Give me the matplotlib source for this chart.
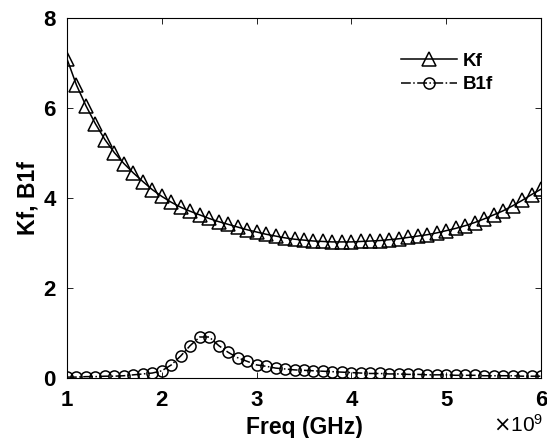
import numpy as np
import matplotlib
matplotlib.use('Agg')
import matplotlib.pyplot as plt
from matplotlib.ticker import FuncFormatter

# frequency points, 1 GHz .. 6 GHz step 0.1 GHz
freq_ghz = [1.0, 1.1, 1.2, 1.3, 1.4, 1.5, 1.6, 1.7, 1.8, 1.9,
            2.0, 2.1, 2.2, 2.3, 2.4, 2.5, 2.6, 2.7, 2.8, 2.9,
            3.0, 3.1, 3.2, 3.3, 3.4, 3.5, 3.6, 3.7, 3.8, 3.9,
            4.0, 4.1, 4.2, 4.3, 4.4, 4.5, 4.6, 4.7, 4.8, 4.9,
            5.0, 5.1, 5.2, 5.3, 5.4, 5.5, 5.6, 5.7, 5.8, 5.9, 6.0]

kf = [7.08, 6.50, 6.04, 5.64, 5.29, 5.00, 4.76, 4.55, 4.36, 4.18,
      4.03, 3.90, 3.79, 3.70, 3.62, 3.54, 3.47, 3.41, 3.35, 3.29,
      3.24, 3.19, 3.15, 3.11, 3.08, 3.06, 3.04, 3.03, 3.02, 3.02,
      3.02, 3.03, 3.04, 3.05, 3.07, 3.09, 3.12, 3.15, 3.18, 3.22,
      3.27, 3.32, 3.38, 3.45, 3.53, 3.62, 3.71, 3.82, 3.94, 4.07, 4.19]

b1f = [0.02, 0.02, 0.03, 0.03, 0.04, 0.04, 0.05, 0.07, 0.09, 0.11,
       0.16, 0.29, 0.49, 0.72, 0.91, 0.91, 0.72, 0.57, 0.45, 0.37,
       0.29, 0.26, 0.22, 0.20, 0.18, 0.17, 0.16, 0.15, 0.14, 0.13,
       0.12, 0.11, 0.10, 0.10, 0.09, 0.09, 0.08, 0.08, 0.07, 0.07,
       0.07, 0.06, 0.06, 0.06, 0.05, 0.05, 0.05, 0.05, 0.04, 0.04, 0.04]

freq = np.array(freq_ghz) * 1e9

plt.rcParams['font.family'] = ['Liberation Sans', 'DejaVu Sans']

fig = plt.figure(figsize=(5.47, 4.38), dpi=100)
ax = fig.add_axes([0.1225, 0.137, 0.8665, 0.823])

ax.plot(freq, kf, '-^', color='black', lw=1.1, markersize=9.5,
        markerfacecolor='none', markeredgewidth=1.1, label='Kf')
ax.plot(freq, b1f, '-.o', color='black', lw=1.1, markersize=8,
        markerfacecolor='none', markeredgewidth=1.1, label='B1f')

ax.set_xlim(1e9, 6e9)
ax.set_ylim(0, 8)
ax.set_xticks([1e9, 2e9, 3e9, 4e9, 5e9, 6e9])
ax.set_yticks([0, 2, 4, 6, 8])
ax.xaxis.set_major_formatter(FuncFormatter(lambda v, p: '%g' % (v / 1e9)))

ax.tick_params(direction='in', top=True, right=True, length=4,
               width=0.6, labelsize=16)
ax.tick_params(axis='x', pad=9)
ax.tick_params(axis='y', pad=8)
for lab in ax.get_xticklabels() + ax.get_yticklabels():
    lab.set_fontweight('bold')
for sp in ax.spines.values():
    sp.set_linewidth(0.8)

ax.set_xlabel('Freq (GHz)', fontsize=16.5, fontweight='bold', labelpad=3)
ax.set_ylabel('Kf, B1f', fontsize=16.5, fontweight='bold', labelpad=3)

fig.text(0.993, 0.004, r'$\times\mathregular{10^9}$', fontsize=15,
         ha='right', va='bottom')

leg = ax.legend(loc='upper right', frameon=False, fontsize=13.5,
                bbox_to_anchor=(0.935, 0.95), handlelength=3.0,
                handletextpad=0.3, labelspacing=0.35)
for t in leg.get_texts():
    t.set_fontweight('bold')

fig.savefig('out.png', dpi=100)
